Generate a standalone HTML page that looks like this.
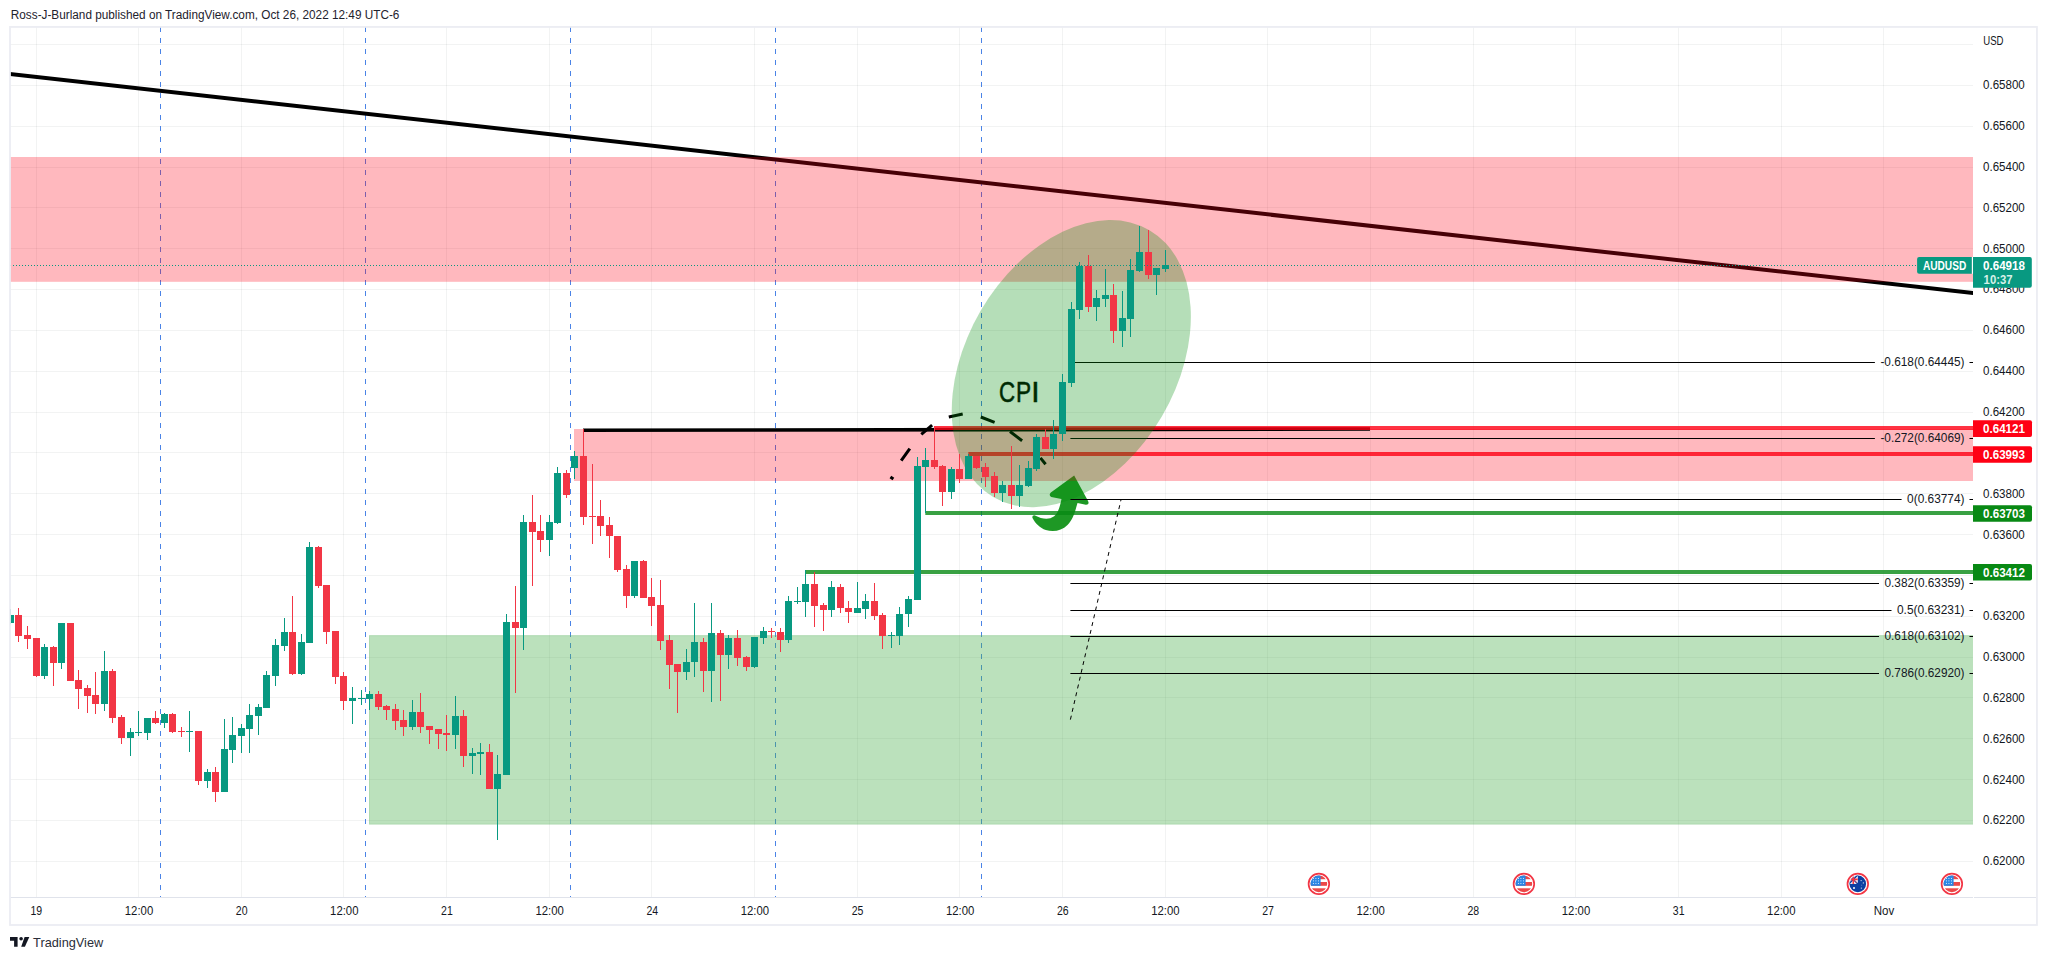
<!DOCTYPE html>
<html><head><meta charset="utf-8"><title>AUDUSD chart</title>
<style>html,body{margin:0;padding:0;background:#fff;width:2047px;height:960px;overflow:hidden}svg{display:block}</style>
</head><body><svg width="2047" height="960" viewBox="0 0 2047 960"><path d="M36.5 27V897M138.5 27V897M241.5 27V897M343.5 27V897M446.5 27V897M549.5 27V897M651.5 27V897M754.5 27V897M857.5 27V897M959.5 27V897M1062.5 27V897M1165.5 27V897M1267.5 27V897M1370.5 27V897M1473.5 27V897M1575.5 27V897M1678.5 27V897M1781.5 27V897M1883.5 27V897M10 861.5H1973M10 820.5H1973M10 779.5H1973M10 738.5H1973M10 697.5H1973M10 657.5H1973M10 616.5H1973M10 575.5H1973M10 534.5H1973M10 493.5H1973M10 452.5H1973M10 412.5H1973M10 371.5H1973M10 330.5H1973M10 289.5H1973M10 248.5H1973M10 207.5H1973M10 167.5H1973M10 126.5H1973M10 85.5H1973M10 44.5H1973" stroke="rgba(42,46,57,0.06)" stroke-width="1" fill="none"/><path d="M160.5 27V897M365.5 27V897M570.5 27V897M775.5 27V897M981.5 27V897" stroke="#4a83e6" stroke-width="1" stroke-dasharray="5 6" fill="none"/><clipPath id="pane"><rect x="10" y="27" width="1963" height="870"/></clipPath><g clip-path="url(#pane)"><path d="M1074.17 475.42 L1087.92 500.83 Q1090.00 505.00 1085.83 504.83 L1077.50 502.92 C1075.00 511.67 1073.33 519.17 1067.50 525.00 C1061.67 530.83 1053.33 532.50 1045.83 530.00 C1040.00 527.92 1035.42 523.33 1032.50 517.92 Q1031.67 515.00 1035.00 515.42 C1041.67 518.75 1048.33 520.42 1054.17 516.25 C1057.50 513.75 1059.58 508.33 1061.50 499.00 L1051.25 497.08 Q1048.33 495.00 1050.83 492.50 Z" fill="#1e9825"/><line x1="0" y1="72.88" x2="1990" y2="294.97" stroke="#000" stroke-width="4"/><rect x="10" y="157" width="1963" height="124.8" fill="rgba(255,0,20,0.28)"/><rect x="574" y="429" width="1399" height="52" fill="rgba(255,0,20,0.28)"/><rect x="369" y="635.2" width="1604" height="189.3" fill="rgba(76,175,80,0.38)"/><rect x="369.5" y="635.7" width="1604" height="188.3" fill="none" stroke="rgba(76,175,80,0.12)" stroke-width="1"/><line x1="583" y1="430.3" x2="1370" y2="429.0" stroke="#000" stroke-width="3.6"/><line x1="934.2" y1="428" x2="1973" y2="428" stroke="rgba(255,0,20,0.8)" stroke-width="4"/><line x1="968.3" y1="454" x2="1973" y2="454" stroke="rgba(255,0,20,0.8)" stroke-width="4"/><line x1="805" y1="572" x2="1973" y2="572" stroke="rgba(8,137,20,0.8)" stroke-width="4"/><line x1="925.3" y1="513" x2="1973" y2="513" stroke="rgba(8,137,20,0.8)" stroke-width="4"/><path d="M1070.4 362.5H1874.9M1969.5 362.5H1973M1070.4 438.5H1874.9M1969.5 438.5H1973M1070.4 499.5H1901.6M1969.5 499.5H1973M1070.4 583.5H1879.0M1969.5 583.5H1973M1070.4 610.5H1891.5M1969.5 610.5H1973M1070.4 636.5H1879.0M1969.5 636.5H1973M1070.4 673.5H1879.0M1969.5 673.5H1973" stroke="#000" stroke-width="1" fill="none"/><g font-family="'Liberation Sans', Arial, sans-serif" font-size="12" fill="#131722"><text x="1880.4" y="365.85" textLength="84.1" lengthAdjust="spacingAndGlyphs">-0.618(0.64445)</text><text x="1880.4" y="441.85" textLength="84.1" lengthAdjust="spacingAndGlyphs">-0.272(0.64069)</text><text x="1907.1" y="502.85" textLength="57.4" lengthAdjust="spacingAndGlyphs">0(0.63774)</text><text x="1884.5" y="586.85" textLength="80.0" lengthAdjust="spacingAndGlyphs">0.382(0.63359)</text><text x="1897.0" y="613.85" textLength="67.5" lengthAdjust="spacingAndGlyphs">0.5(0.63231)</text><text x="1884.5" y="639.85" textLength="80.0" lengthAdjust="spacingAndGlyphs">0.618(0.63102)</text><text x="1884.5" y="676.85" textLength="80.0" lengthAdjust="spacingAndGlyphs">0.786(0.62920)</text></g><line x1="1070.4" y1="719.6" x2="1121.1" y2="499.3" stroke="#000" stroke-width="1" stroke-dasharray="4 4"/><g font-family="'Liberation Sans', Arial, sans-serif" font-size="29.8" fill="#000" stroke="#000" stroke-width="0.55"><text x="999.05" y="401.8" textLength="16.15" lengthAdjust="spacingAndGlyphs">C</text><text x="1016.0" y="401.8" textLength="15.1" lengthAdjust="spacingAndGlyphs">P</text><text x="1031.3" y="401.8">I</text></g><path d="M890.4 476.9L893.4 478.9M901.2 460.7L909.8 448.7M921.3 434.4L932.1 425.2M948.8 417L962.7 414M980.8 417L994.6 422.3M1010 431.5L1022.1 440.7M1040.4 457.9L1045.6 464.2" stroke="#000" stroke-width="3" fill="none"/><ellipse cx="0" cy="0" rx="154.6" ry="104.9" transform="translate(1071.3 363.6) rotate(-59.65)" fill="rgba(0,143,10,0.29)"/><path d="M10 609h1V624h-1ZM44 644h1V679h-1ZM61 623h1V669h-1ZM104 651h1V711h-1ZM130 728h1V756h-1ZM138 711h1V736h-1ZM147 718h1V740h-1ZM164 713h1V728h-1ZM189 711h1V752h-1ZM207 769h1V788h-1ZM224 719h1V792h-1ZM232 717h1V763h-1ZM241 724h1V753h-1ZM249 704h1V753h-1ZM258 704h1V735h-1ZM266 671h1V708h-1ZM275 639h1V686h-1ZM284 618h1V651h-1ZM301 634h1V675h-1ZM309 542h1V643h-1ZM352 687h1V724h-1ZM361 690h1V705h-1ZM369 691h1V710h-1ZM412 700h1V730h-1ZM455 696h1V749h-1ZM472 748h1V774h-1ZM480 743h1V775h-1ZM497 755h1V840h-1ZM506 614h1V775h-1ZM523 515h1V650h-1ZM549 515h1V556h-1ZM557 467h1V524h-1ZM574 451h1V479h-1ZM634 561h1V598h-1ZM686 649h1V680h-1ZM694 603h1V677h-1ZM711 603h1V702h-1ZM728 635h1V669h-1ZM754 637h1V668h-1ZM763 627h1V644h-1ZM788 596h1V643h-1ZM797 587h1V604h-1ZM805 570h1V617h-1ZM831 581h1V617h-1ZM857 582h1V613h-1ZM865 594h1V619h-1ZM891 632h1V648h-1ZM899 607h1V645h-1ZM908 596h1V627h-1ZM917 457h1V600h-1ZM925 448h1V513h-1ZM951 467h1V499h-1ZM968 454h1V479h-1ZM1002 481h1V502h-1ZM1019 465h1V507h-1ZM1028 461h1V487h-1ZM1036 434h1V471h-1ZM1053 420h1V459h-1ZM1062 374h1V441h-1ZM1071 302h1V387h-1ZM1079 262h1V319h-1ZM1096 290h1V321h-1ZM1105 269h1V307h-1ZM1122 291h1V347h-1ZM1130 259h1V337h-1ZM1139 226h1V272h-1ZM1156 268h1V295h-1ZM1165 250h1V272h-1ZM7 615h7V623h-7ZM41 647h7V676h-7ZM58 623h7V663h-7ZM101 671h7V704h-7ZM127 732h7V738h-7ZM135 732h7V733h-7ZM144 718h7V733h-7ZM161 714h7V723h-7ZM186 731h7V732h-7ZM204 772h7V781h-7ZM221 749h7V792h-7ZM229 735h7V750h-7ZM238 728h7V736h-7ZM246 715h7V729h-7ZM255 707h7V716h-7ZM263 675h7V708h-7ZM272 645h7V676h-7ZM281 632h7V646h-7ZM298 642h7V674h-7ZM306 547h7V643h-7ZM349 698h7V701h-7ZM358 698h7V699h-7ZM366 694h7V699h-7ZM409 712h7V727h-7ZM452 716h7V735h-7ZM469 753h7V756h-7ZM477 752h7V754h-7ZM494 774h7V789h-7ZM503 622h7V775h-7ZM520 522h7V628h-7ZM546 522h7V540h-7ZM554 473h7V523h-7ZM571 456h7V468h-7ZM631 561h7V596h-7ZM683 662h7V672h-7ZM691 642h7V662h-7ZM708 633h7V671h-7ZM725 638h7V655h-7ZM751 637h7V667h-7ZM760 631h7V638h-7ZM785 601h7V640h-7ZM794 601h7V602h-7ZM802 584h7V602h-7ZM828 587h7V610h-7ZM854 608h7V613h-7ZM862 601h7V609h-7ZM888 635h7V636h-7ZM896 614h7V636h-7ZM905 599h7V614h-7ZM914 466h7V600h-7ZM922 460h7V467h-7ZM948 469h7V492h-7ZM965 456h7V479h-7ZM999 485h7V493h-7ZM1016 485h7V496h-7ZM1025 468h7V486h-7ZM1033 437h7V469h-7ZM1050 434h7V449h-7ZM1059 382h7V434h-7ZM1068 309h7V383h-7ZM1076 266h7V310h-7ZM1093 298h7V307h-7ZM1102 295h7V299h-7ZM1119 318h7V331h-7ZM1127 270h7V319h-7ZM1136 252h7V271h-7ZM1153 268h7V275h-7ZM1162 265h7V269h-7Z" fill="#089981"/><path d="M18 608h1V642h-1ZM27 626h1V649h-1ZM36 638h1V677h-1ZM53 646h1V686h-1ZM70 623h1V681h-1ZM78 670h1V709h-1ZM87 685h1V713h-1ZM95 672h1V714h-1ZM112 669h1V723h-1ZM121 715h1V744h-1ZM155 711h1V724h-1ZM172 713h1V733h-1ZM181 727h1V737h-1ZM198 731h1V785h-1ZM215 767h1V802h-1ZM292 596h1V675h-1ZM318 546h1V588h-1ZM326 585h1V644h-1ZM335 631h1V684h-1ZM343 672h1V710h-1ZM378 691h1V710h-1ZM386 705h1V720h-1ZM395 704h1V730h-1ZM403 710h1V736h-1ZM420 693h1V733h-1ZM429 726h1V744h-1ZM438 729h1V749h-1ZM446 715h1V751h-1ZM463 710h1V767h-1ZM489 744h1V789h-1ZM515 586h1V693h-1ZM532 495h1V586h-1ZM540 515h1V552h-1ZM566 470h1V498h-1ZM583 429h1V525h-1ZM592 464h1V544h-1ZM600 500h1V536h-1ZM609 517h1V558h-1ZM617 536h1V572h-1ZM626 565h1V608h-1ZM643 560h1V598h-1ZM651 578h1V626h-1ZM660 580h1V650h-1ZM669 635h1V689h-1ZM677 664h1V713h-1ZM703 638h1V692h-1ZM720 630h1V701h-1ZM737 630h1V666h-1ZM746 656h1V671h-1ZM771 628h1V638h-1ZM780 628h1V652h-1ZM814 572h1V627h-1ZM823 603h1V631h-1ZM840 584h1V613h-1ZM848 601h1V623h-1ZM874 583h1V620h-1ZM882 613h1V649h-1ZM934 426h1V469h-1ZM942 465h1V506h-1ZM959 454h1V483h-1ZM976 456h1V469h-1ZM985 463h1V487h-1ZM994 472h1V497h-1ZM1011 446h1V509h-1ZM1045 429h1V449h-1ZM1088 255h1V312h-1ZM1113 284h1V343h-1ZM1148 230h1V279h-1ZM15 615h7V636h-7ZM24 635h7V639h-7ZM33 638h7V676h-7ZM50 647h7V663h-7ZM67 623h7V681h-7ZM75 680h7V689h-7ZM84 688h7V696h-7ZM92 695h7V704h-7ZM109 671h7V718h-7ZM118 717h7V738h-7ZM152 718h7V723h-7ZM169 714h7V732h-7ZM178 731h7V732h-7ZM195 731h7V781h-7ZM212 772h7V792h-7ZM289 632h7V674h-7ZM315 547h7V586h-7ZM323 585h7V632h-7ZM332 631h7V677h-7ZM340 676h7V701h-7ZM375 694h7V707h-7ZM383 706h7V710h-7ZM392 709h7V721h-7ZM400 720h7V727h-7ZM417 712h7V727h-7ZM426 726h7V730h-7ZM435 729h7V734h-7ZM443 733h7V735h-7ZM460 716h7V756h-7ZM486 752h7V789h-7ZM512 622h7V628h-7ZM529 522h7V532h-7ZM537 531h7V540h-7ZM563 473h7V495h-7ZM580 456h7V517h-7ZM589 516h7V517h-7ZM597 516h7V526h-7ZM606 525h7V536h-7ZM614 536h7V570h-7ZM623 569h7V596h-7ZM640 561h7V598h-7ZM648 597h7V606h-7ZM657 605h7V641h-7ZM666 640h7V665h-7ZM674 664h7V672h-7ZM700 642h7V671h-7ZM717 633h7V655h-7ZM734 638h7V658h-7ZM743 657h7V667h-7ZM768 631h7V632h-7ZM777 632h7V640h-7ZM811 584h7V606h-7ZM820 605h7V610h-7ZM837 587h7V608h-7ZM845 608h7V612h-7ZM871 601h7V616h-7ZM879 615h7V636h-7ZM931 460h7V467h-7ZM939 466h7V492h-7ZM956 469h7V479h-7ZM973 456h7V468h-7ZM982 467h7V477h-7ZM991 476h7V493h-7ZM1008 485h7V496h-7ZM1042 437h7V449h-7ZM1085 266h7V307h-7ZM1110 295h7V331h-7ZM1145 252h7V275h-7Z" fill="#F23645"/><line x1="10" y1="265.5" x2="1916" y2="265.5" stroke="#089981" stroke-width="1" stroke-dasharray="1 2"/></g><path d="M10 897.5H1973M1974 897.5H2036" stroke="#e0e3eb" stroke-width="1"/><rect x="10" y="26.95" width="2026.95" height="898.05" fill="none" stroke="#ecedf3" stroke-width="1.8"/><g font-family="'Liberation Sans', Arial, sans-serif" font-size="12" fill="#131722"><text x="1983" y="865.2" textLength="41.8" lengthAdjust="spacingAndGlyphs">0.62000</text><text x="1983" y="824.3" textLength="41.8" lengthAdjust="spacingAndGlyphs">0.62200</text><text x="1983" y="783.5" textLength="41.8" lengthAdjust="spacingAndGlyphs">0.62400</text><text x="1983" y="742.6" textLength="41.8" lengthAdjust="spacingAndGlyphs">0.62600</text><text x="1983" y="701.8" textLength="41.8" lengthAdjust="spacingAndGlyphs">0.62800</text><text x="1983" y="661.0" textLength="41.8" lengthAdjust="spacingAndGlyphs">0.63000</text><text x="1983" y="620.1" textLength="41.8" lengthAdjust="spacingAndGlyphs">0.63200</text><text x="1983" y="538.5" textLength="41.8" lengthAdjust="spacingAndGlyphs">0.63600</text><text x="1983" y="497.6" textLength="41.8" lengthAdjust="spacingAndGlyphs">0.63800</text><text x="1983" y="415.9" textLength="41.8" lengthAdjust="spacingAndGlyphs">0.64200</text><text x="1983" y="375.1" textLength="41.8" lengthAdjust="spacingAndGlyphs">0.64400</text><text x="1983" y="334.3" textLength="41.8" lengthAdjust="spacingAndGlyphs">0.64600</text><text x="1983" y="252.6" textLength="41.8" lengthAdjust="spacingAndGlyphs">0.65000</text><text x="1983" y="211.8" textLength="41.8" lengthAdjust="spacingAndGlyphs">0.65200</text><text x="1983" y="170.9" textLength="41.8" lengthAdjust="spacingAndGlyphs">0.65400</text><text x="1983" y="130.1" textLength="41.8" lengthAdjust="spacingAndGlyphs">0.65600</text><text x="1983" y="89.2" textLength="41.8" lengthAdjust="spacingAndGlyphs">0.65800</text><text x="1983.2" y="44.9" textLength="20.3" lengthAdjust="spacingAndGlyphs">USD</text><text x="1983" y="293.4" textLength="41.8" lengthAdjust="spacingAndGlyphs">0.64800</text></g><path d="M1973 420.2H2030Q2032 420.2 2032 422.2V435Q2032 437 2030 437H1973Z" fill="#ff0014"/><text x="1983" y="432.8" font-family="'Liberation Sans', Arial, sans-serif" font-size="12" font-weight="bold" fill="#fff" textLength="42" lengthAdjust="spacingAndGlyphs">0.64121</text><path d="M1973 446.3H2030Q2032 446.3 2032 448.3V460.7Q2032 462.7 2030 462.7H1973Z" fill="#ff0014"/><text x="1983" y="458.7" font-family="'Liberation Sans', Arial, sans-serif" font-size="12" font-weight="bold" fill="#fff" textLength="42" lengthAdjust="spacingAndGlyphs">0.63993</text><path d="M1973 505.3H2030Q2032 505.3 2032 507.3V519.7Q2032 521.7 2030 521.7H1973Z" fill="#088914"/><text x="1983" y="517.7" font-family="'Liberation Sans', Arial, sans-serif" font-size="12" font-weight="bold" fill="#fff" textLength="42" lengthAdjust="spacingAndGlyphs">0.63703</text><path d="M1973 564H2030Q2032 564 2032 566V578.6Q2032 580.6 2030 580.6H1973Z" fill="#088914"/><text x="1983" y="576.5" font-family="'Liberation Sans', Arial, sans-serif" font-size="12" font-weight="bold" fill="#fff" textLength="42" lengthAdjust="spacingAndGlyphs">0.63412</text><path d="M1973 257.1H2029.8Q2031.8 257.1 2031.8 259.1V285.7Q2031.8 287.7 2029.8 287.7H1973Z" fill="#089981"/><text x="1983" y="269.6" font-family="'Liberation Sans', Arial, sans-serif" font-size="12" font-weight="bold" fill="#fff" textLength="42" lengthAdjust="spacingAndGlyphs">0.64918</text><text x="1983.6" y="284.1" font-family="'Liberation Sans', Arial, sans-serif" font-size="12" font-weight="bold" fill="#d6f0e8" textLength="29" lengthAdjust="spacingAndGlyphs">10:37</text><path d="M1971.9 257.1H1919.1Q1917.1 257.1 1917.1 259.1V271.75Q1917.1 273.75 1919.1 273.75H1971.9Z" fill="#089981"/><rect x="1971.9" y="257.1" width="1.1" height="16.65" fill="#fff"/><text x="1922.9" y="269.6" font-family="'Liberation Sans', Arial, sans-serif" font-size="12" font-weight="bold" fill="#fff" textLength="43.3" lengthAdjust="spacingAndGlyphs">AUDUSD</text><g font-family="'Liberation Sans', Arial, sans-serif" font-size="12" fill="#131722"><text x="30.5" y="915" textLength="11.7" lengthAdjust="spacingAndGlyphs">19</text><text x="124.8" y="915" textLength="28.4" lengthAdjust="spacingAndGlyphs">12:00</text><text x="235.8" y="915" textLength="11.7" lengthAdjust="spacingAndGlyphs">20</text><text x="330.1" y="915" textLength="28.4" lengthAdjust="spacingAndGlyphs">12:00</text><text x="441.1" y="915" textLength="11.7" lengthAdjust="spacingAndGlyphs">21</text><text x="535.4" y="915" textLength="28.4" lengthAdjust="spacingAndGlyphs">12:00</text><text x="646.4" y="915" textLength="11.7" lengthAdjust="spacingAndGlyphs">24</text><text x="740.7" y="915" textLength="28.4" lengthAdjust="spacingAndGlyphs">12:00</text><text x="851.7" y="915" textLength="11.7" lengthAdjust="spacingAndGlyphs">25</text><text x="946.0" y="915" textLength="28.4" lengthAdjust="spacingAndGlyphs">12:00</text><text x="1057.0" y="915" textLength="11.7" lengthAdjust="spacingAndGlyphs">26</text><text x="1151.2" y="915" textLength="28.4" lengthAdjust="spacingAndGlyphs">12:00</text><text x="1262.2" y="915" textLength="11.7" lengthAdjust="spacingAndGlyphs">27</text><text x="1356.5" y="915" textLength="28.4" lengthAdjust="spacingAndGlyphs">12:00</text><text x="1467.5" y="915" textLength="11.7" lengthAdjust="spacingAndGlyphs">28</text><text x="1561.8" y="915" textLength="28.4" lengthAdjust="spacingAndGlyphs">12:00</text><text x="1672.8" y="915" textLength="11.7" lengthAdjust="spacingAndGlyphs">31</text><text x="1767.1" y="915" textLength="28.4" lengthAdjust="spacingAndGlyphs">12:00</text><text x="1873.7" y="915" textLength="20.5" lengthAdjust="spacingAndGlyphs">Nov</text></g><g transform="translate(1318.9 883.9)"><circle r="10.3" fill="#fff" stroke="#f23645" stroke-width="1.7"/><clipPath id="uf1318"><circle r="8.3"/></clipPath><g clip-path="url(#uf1318)"><rect x="-9" y="-9" width="18" height="18" fill="#fff"/><rect x="-9" y="-9" width="18" height="4.3" fill="#ec4848"/><rect x="-9" y="-1.9" width="18" height="3.8" fill="#ec4848"/><rect x="-9" y="4.4" width="18" height="5" fill="#ec4848"/><rect x="-9" y="-9" width="10.7" height="10.9" fill="#2a86e4"/><rect x="-5.95" y="-5.95" width="0.9" height="0.9" fill="#fff"/><rect x="-5.95" y="-3.45" width="0.9" height="0.9" fill="#fff"/><rect x="-5.95" y="-0.95" width="0.9" height="0.9" fill="#fff"/><rect x="-3.45" y="-5.95" width="0.9" height="0.9" fill="#fff"/><rect x="-3.45" y="-3.45" width="0.9" height="0.9" fill="#fff"/><rect x="-3.45" y="-0.95" width="0.9" height="0.9" fill="#fff"/><rect x="-0.95" y="-5.95" width="0.9" height="0.9" fill="#fff"/><rect x="-0.95" y="-3.45" width="0.9" height="0.9" fill="#fff"/><rect x="-0.95" y="-0.95" width="0.9" height="0.9" fill="#fff"/></g></g><g transform="translate(1523.9 883.9)"><circle r="10.3" fill="#fff" stroke="#f23645" stroke-width="1.7"/><clipPath id="uf1523"><circle r="8.3"/></clipPath><g clip-path="url(#uf1523)"><rect x="-9" y="-9" width="18" height="18" fill="#fff"/><rect x="-9" y="-9" width="18" height="4.3" fill="#ec4848"/><rect x="-9" y="-1.9" width="18" height="3.8" fill="#ec4848"/><rect x="-9" y="4.4" width="18" height="5" fill="#ec4848"/><rect x="-9" y="-9" width="10.7" height="10.9" fill="#2a86e4"/><rect x="-5.95" y="-5.95" width="0.9" height="0.9" fill="#fff"/><rect x="-5.95" y="-3.45" width="0.9" height="0.9" fill="#fff"/><rect x="-5.95" y="-0.95" width="0.9" height="0.9" fill="#fff"/><rect x="-3.45" y="-5.95" width="0.9" height="0.9" fill="#fff"/><rect x="-3.45" y="-3.45" width="0.9" height="0.9" fill="#fff"/><rect x="-3.45" y="-0.95" width="0.9" height="0.9" fill="#fff"/><rect x="-0.95" y="-5.95" width="0.9" height="0.9" fill="#fff"/><rect x="-0.95" y="-3.45" width="0.9" height="0.9" fill="#fff"/><rect x="-0.95" y="-0.95" width="0.9" height="0.9" fill="#fff"/></g></g><g transform="translate(1857.8 883.9)"><circle r="10.3" fill="#fff" stroke="#f23645" stroke-width="1.7"/><clipPath id="auf"><circle r="8.3"/></clipPath><g clip-path="url(#auf)"><rect x="-9" y="-9" width="18" height="18" fill="#0b3fa2"/><rect x="-9" y="-9" width="9" height="9" fill="#fff"/><path d="M-9 -9L0 0M-9 0L0 -9" stroke="#0b3fa2" stroke-width="1.4"/><path d="M-4.5 -9V0M-9 -4.5H0" stroke="#f23645" stroke-width="1.6"/><path d="M-7 -7L-1 -1" stroke="#f23645" stroke-width="0.7"/></g><circle cx="-3.8" cy="4" r="1" fill="#fff"/><circle cx="3.3" cy="-3.3" r="0.55" fill="#fff"/><circle cx="5.5" cy="-1" r="0.55" fill="#fff"/><circle cx="3.5" cy="4.2" r="0.55" fill="#fff"/><circle cx="4" cy="1.2" r="0.4" fill="#fff"/></g><g transform="translate(1951.9 883.9)"><circle r="10.3" fill="#fff" stroke="#f23645" stroke-width="1.7"/><clipPath id="uf1951"><circle r="8.3"/></clipPath><g clip-path="url(#uf1951)"><rect x="-9" y="-9" width="18" height="18" fill="#fff"/><rect x="-9" y="-9" width="18" height="4.3" fill="#ec4848"/><rect x="-9" y="-1.9" width="18" height="3.8" fill="#ec4848"/><rect x="-9" y="4.4" width="18" height="5" fill="#ec4848"/><rect x="-9" y="-9" width="10.7" height="10.9" fill="#2a86e4"/><rect x="-5.95" y="-5.95" width="0.9" height="0.9" fill="#fff"/><rect x="-5.95" y="-3.45" width="0.9" height="0.9" fill="#fff"/><rect x="-5.95" y="-0.95" width="0.9" height="0.9" fill="#fff"/><rect x="-3.45" y="-5.95" width="0.9" height="0.9" fill="#fff"/><rect x="-3.45" y="-3.45" width="0.9" height="0.9" fill="#fff"/><rect x="-3.45" y="-0.95" width="0.9" height="0.9" fill="#fff"/><rect x="-0.95" y="-5.95" width="0.9" height="0.9" fill="#fff"/><rect x="-0.95" y="-3.45" width="0.9" height="0.9" fill="#fff"/><rect x="-0.95" y="-0.95" width="0.9" height="0.9" fill="#fff"/></g></g><text x="10.8" y="18.8" font-family="'Liberation Sans', Arial, sans-serif" font-size="12" fill="#1e222d" textLength="388.6" lengthAdjust="spacingAndGlyphs">Ross-J-Burland published on TradingView.com, Oct 26, 2022 12:49 UTC-6</text><g fill="#131722"><path d="M10 937H17.6V946.8H14.1V940.8H10Z"/><circle cx="21.1" cy="938.8" r="1.8"/><path d="M24.6 937H29.3L24.9 946.8H21.2Z"/></g><text x="33.1" y="946.8" font-family="'Liberation Sans', Arial, sans-serif" font-size="13" fill="#2a2e39" textLength="70.1" lengthAdjust="spacingAndGlyphs">TradingView</text></svg></body></html>
